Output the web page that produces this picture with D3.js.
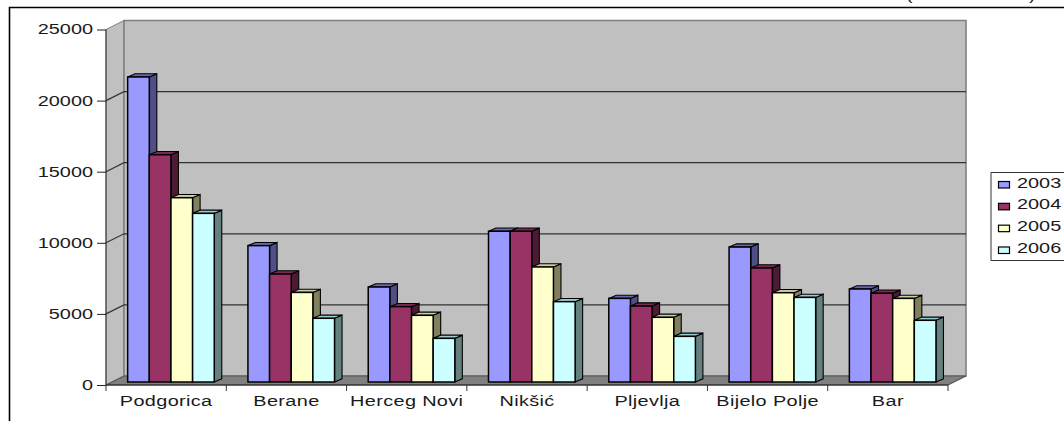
<!DOCTYPE html>
<html><head><meta charset="utf-8">
<script src="https://cdn.jsdelivr.net/npm/d3@7/dist/d3.min.js"></script>
<style>html,body{margin:0;padding:0;background:#fff}svg{display:block}text{font-family:"Liberation Sans",Arial,sans-serif;fill:#1a1a1a}</style>
</head><body><svg id="c" width="1064" height="421"></svg>
<script>
const categories=["Podgorica","Berane","Herceg Novi","Nikšić","Pljevlja","Bijelo Polje","Bar"];
const years=["2003","2004","2005","2006"];
const v2003=[21450,9590,6680,10600,5880,9490,6540];
const v2004=[15980,7595,5300,10600,5340,8020,6240];
const v2005=[12960,6300,4690,8090,4550,6280,5880];
const v2006=[11860,4480,3070,5650,3210,5950,4340];
const yTicks=[0,5000,10000,15000,20000,25000];
const front=["#9999ff","#993366","#ffffcc","#ccffff"];
const top_=["#6666b3","#7a2950","#cccca3","#99cccc"];
const side=["#4f4f85","#4d1a33","#80805f","#668080"];
const series=[v2003,v2004,v2005,v2006];

const svg=d3.select("#c");
const W=18,H=9;
const SX=1.42;
const y=d3.scaleLinear().domain([0,25000]).range([385,29.5]);
const x=d3.scaleBand().domain(categories).range([106,948]);
const bw=x.bandwidth()*0.18;
const bx=(c,i)=>x(c)+x.bandwidth()*0.18+i*bw;
const poly=(pts,f,s,sw)=>svg.append("polygon").attr("points",pts.map(p=>p.join(",")).join(" ")).attr("fill",f).attr("stroke",s).attr("stroke-width",sw);

// clipped title brackets and frame
svg.append("text").attr("transform",`translate(906,0) scale(${SX},1)`).attr("font-size",14).text("(");
svg.append("text").attr("transform",`translate(1029,0) scale(${SX},1)`).attr("font-size",14).text(")");
svg.append("path").attr("d","M9.5,421V7.5H1064").attr("fill","none").attr("stroke","#000").attr("stroke-width",1.6);

// walls
poly([[106,y(25000)],[106+W,y(25000)-H],[106+W,y(0)-H],[106,y(0)]],"#c0c0c0","#808080",1);
poly([[106+W,y(25000)-H],[966,y(25000)-H],[966,y(0)-H],[106+W,y(0)-H]],"#c0c0c0","#808080",1.6);
poly([[106,y(0)],[106+W,y(0)-H],[966,y(0)-H],[948,y(0)]],"#808080","#555",1.2);
svg.append("line").attr("x1",106).attr("x2",106).attr("y1",y(25000)).attr("y2",y(0)).attr("stroke","#333");

// gridlines
yTicks.filter(t=>t>0&&t<25000).forEach(t=>{
  svg.append("path").attr("d",`M106,${y(t)}L${106+W},${y(t)-H}H966`).attr("fill","none").attr("stroke","#333").attr("stroke-width",1.2);
});
svg.append("line").attr("x1",106).attr("x2",948).attr("y1",y(0)).attr("y2",y(0)).attr("stroke","#222");

// axes
const ga=svg.append("g").attr("transform","translate(106,0)").call(d3.axisLeft(y).tickValues(yTicks).tickSize(9).tickPadding(3).tickFormat(d3.format("d")));
ga.select(".domain").remove();
ga.selectAll("text").attr("font-size",14).attr("x",0).attr("transform",`translate(-13,0) scale(${SX},1)`).style("font-family",'"Liberation Sans",Arial,sans-serif').style("fill","#1a1a1a");
ga.selectAll("line").attr("stroke","#222");
const gx=svg.append("g").attr("transform","translate(0,385)").call(d3.axisBottom(x).tickSize(0).tickPadding(11));
gx.select(".domain").remove();
gx.selectAll("text").attr("font-size",14).attr("letter-spacing",0.25).attr("transform",`scale(${SX},1)`).style("font-family",'"Liberation Sans",Arial,sans-serif').style("fill","#1a1a1a");
const edges=categories.map(c=>x(c)).concat([948]);
svg.selectAll(".xt").data(edges).join("line").attr("class","xt").attr("x1",d=>d).attr("x2",d=>d).attr("y1",385).attr("y2",391).attr("stroke","#333");

// bars
const dx=7.5,dy=3.2;
const by=v=>y(v)-3;
categories.forEach(c=>{
  const ci=categories.indexOf(c);
  [0,1,2,3].forEach(i=>{
    const x0=bx(c,i),x1=x0+bw,yt=by(series[i][ci]),yb=by(0);
    poly([[x1,yt],[x1+dx,yt-dy],[x1+dx,yb-dy],[x1,yb]],side[i],"#000",1.1);
    poly([[x0,yt],[x0+dx,yt-dy],[x1+dx,yt-dy],[x1,yt]],top_[i],"#000",1.1);
    svg.append("rect").attr("x",x0).attr("y",yt).attr("width",bw).attr("height",yb-yt).attr("fill",front[i]).attr("stroke","#000").attr("stroke-width",1.5);
  });
});

// legend
svg.append("path").attr("d","M1064,172.5H991V260.5H1064").attr("fill","#fff").attr("stroke","#333");
const ly=d3.scalePoint().domain(years).range([184.5,250]);
years.forEach((yr,i)=>{
  svg.append("rect").attr("x",998.5).attr("y",ly(yr)-3).attr("width",11).attr("height",6.5).attr("fill",front[i]).attr("stroke","#000").attr("stroke-width",1.2);
  svg.append("text").attr("transform",`translate(1017,${ly(yr)+3}) scale(${SX},1)`).attr("font-size",14).text(yr);
});
</script></body></html>
